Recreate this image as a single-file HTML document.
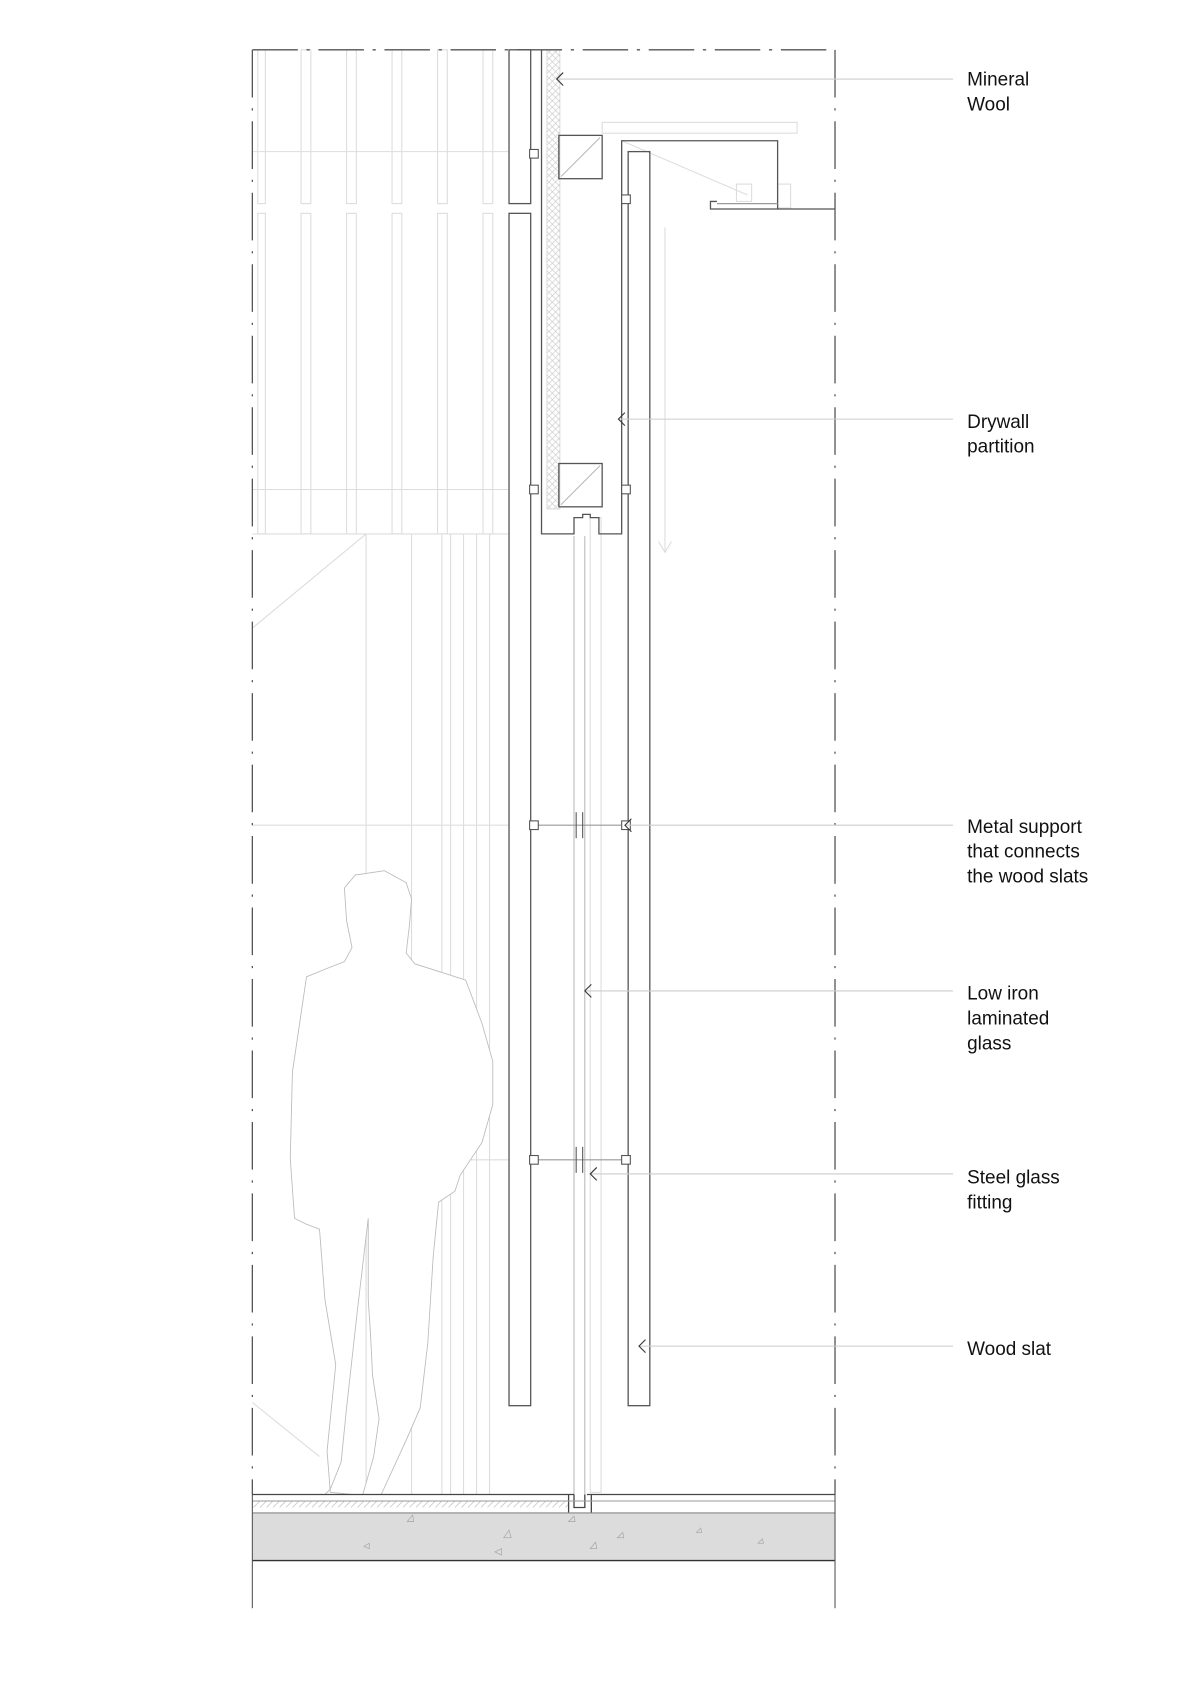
<!DOCTYPE html>
<html><head><meta charset="utf-8"><style>
html,body{margin:0;padding:0;background:#fff;}
svg{display:block;}
text{font-family:"Liberation Sans",Arial,sans-serif;font-size:17.5px;fill:#111;}
</style></head><body>
<svg width="1200" height="1697" viewBox="0 0 1108 1567" preserveAspectRatio="none" xmlns="http://www.w3.org/2000/svg">
<defs>
<pattern id="wool" width="6" height="6" patternUnits="userSpaceOnUse"><path d="M0 3 L3 0 L6 3 L3 6 Z" fill="none" stroke="#ccc" stroke-width="0.6"/></pattern>
<pattern id="hatch" width="6" height="6" patternUnits="userSpaceOnUse"><path d="M0 6 L6 0" stroke="#bbb" stroke-width="0.6"/></pattern>
</defs>
<g fill="none" stroke="#ddd" stroke-width="1">
<rect x="238" y="46" width="7" height="142"/><rect x="238" y="197" width="7" height="296"/>
<rect x="278" y="46" width="9" height="142"/><rect x="278" y="197" width="9" height="296"/>
<rect x="320" y="46" width="9" height="142"/><rect x="320" y="197" width="9" height="296"/>
<rect x="362" y="46" width="9" height="142"/><rect x="362" y="197" width="9" height="296"/>
<rect x="404" y="46" width="9" height="142"/><rect x="404" y="197" width="9" height="296"/>
<rect x="446" y="46" width="9" height="142"/><rect x="446" y="197" width="9" height="296"/>
<line x1="233" y1="493" x2="470" y2="493"/>
<line x1="233" y1="140" x2="470" y2="140"/><line x1="233" y1="452" x2="470" y2="452"/>
<line x1="380" y1="493" x2="380" y2="1380"/><line x1="408" y1="493" x2="408" y2="1380"/>
<line x1="416" y1="493" x2="416" y2="1380"/><line x1="428" y1="493" x2="428" y2="1380"/>
<line x1="440" y1="493" x2="440" y2="1380"/><line x1="452" y1="493" x2="452" y2="1380"/>
<line x1="338" y1="493" x2="338" y2="1380"/>
<line x1="233" y1="580" x2="338" y2="493"/><line x1="233" y1="1295" x2="295" y2="1345"/>
<line x1="233" y1="762" x2="470" y2="762"/><line x1="380" y1="1071" x2="470" y2="1071"/>
<line x1="614" y1="210" x2="614" y2="510"/><path d="M608 500 L614 510 L620 500"/>
<line x1="574" y1="130" x2="690" y2="180"/>
<rect x="556" y="113" width="180" height="10"/><rect x="718" y="170" width="12" height="22"/>
<rect x="680" y="170" width="14" height="16"/>
<rect x="545" y="478" width="10" height="900"/>
</g>
<rect x="505" y="46" width="12" height="424" fill="url(#wool)" stroke="#ccc" stroke-width="0.6"/>
<path d="M355 804 L375 815 L380 830 L378 855 L375 880 L383 890 L405 897 L430 905 L445 945 L455 980 L455 1020 L445 1055 L425 1085 L420 1100 L405 1110 L400 1160 L395 1240 L388 1300 L375 1330 L352 1380 L335 1380 L345 1345 L350 1310 L344 1270 L342 1230 L340 1200 L340 1125 L330 1210 L320 1300 L315 1350 L305 1375 L300 1380 L325 1380 L305 1378 L302 1340 L310 1260 L300 1200 L295 1135 L282 1130 L272 1125 L268 1070 L270 990 L283 902 L300 895 L318 888 L325 875 L320 850 L318 820 L328 808 Z" fill="#fff" stroke="#bbb" stroke-width="0.8"/>
<g fill="none" stroke="#555" stroke-width="1.2">
<line x1="233" y1="46" x2="771" y2="46" stroke-dasharray="42,8,3,8"/>
<line x1="233" y1="46" x2="233" y2="1380" stroke-dasharray="44,10,2,10"/>
<line x1="771" y1="46" x2="771" y2="1380" stroke-dasharray="44,10,2,10"/>
<rect x="470" y="46" width="20" height="142"/>
<rect x="470" y="197" width="20" height="1101"/>
<rect x="580" y="140" width="20" height="1158"/>
<path d="M500 46 L500 493 L530 493 L530 478 L538 478 L538 475 L545 475 L545 478 L553 478 L553 493 L574 493 L574 130 L718 130 L718 193 L656 193 L656 186 L662 186"/>
<line x1="718" y1="193" x2="771" y2="193"/>
<line x1="662" y1="188" x2="718" y2="188" stroke="#999"/>
<rect x="516" y="125" width="40" height="40"/><rect x="516" y="428" width="40" height="40"/>
</g>
<g stroke="#aaa" stroke-width="0.8" fill="none">
<line x1="518" y1="163" x2="554" y2="127"/><line x1="518" y1="466" x2="554" y2="430"/>
<line x1="530" y1="495" x2="530" y2="1390"/><line x1="540" y1="495" x2="540" y2="1390"/>
</g>
<g stroke="#555" stroke-width="1" fill="#fff">
<rect x="489" y="138" width="8" height="8"/><rect x="489" y="448" width="8" height="8"/>
<rect x="574" y="180" width="8" height="8"/><rect x="574" y="448" width="8" height="8"/>
<line x1="493" y1="762" x2="578" y2="762" stroke="#999"/><line x1="493" y1="1071" x2="578" y2="1071" stroke="#999"/>
<rect x="489" y="758" width="8" height="8"/><rect x="574" y="758" width="8" height="8"/>
<rect x="489" y="1067" width="8" height="8"/><rect x="574" y="1067" width="8" height="8"/>
<line x1="532" y1="750" x2="532" y2="774"/><line x1="538" y1="750" x2="538" y2="774"/>
<line x1="532" y1="1059" x2="532" y2="1083"/><line x1="538" y1="1059" x2="538" y2="1083"/>
</g>
<rect x="233" y="1386" width="292" height="6" fill="url(#hatch)"/>
<g stroke="#444" stroke-width="1.2" fill="none">
<line x1="233" y1="1380" x2="530" y2="1380"/><line x1="542" y1="1380" x2="771" y2="1380"/>
<path d="M525 1380 L525 1397 M546 1380 L546 1397 M530 1380 L530 1392 L540 1392 L540 1380"/>
</g>
<line x1="233" y1="1386" x2="771" y2="1386" stroke="#999"/>
<rect x="233" y="1397" width="538" height="44" fill="#dcdcdc"/>
<line x1="233" y1="1397" x2="771" y2="1397" stroke="#888"/>
<line x1="233" y1="1441" x2="771" y2="1441" stroke="#333" stroke-width="1.3"/>
<line x1="233" y1="1380" x2="233" y2="1485" stroke="#555"/><line x1="771" y1="1380" x2="771" y2="1485" stroke="#555"/>
<g fill="none" stroke="#aaa" stroke-width="0.7">
<path d="M376 1405 l5 -6 l1 6z M465 1420 l5 -7 l2 7z M463 1430 l-6 3 l6 3z M525 1405 l5 -5 l1 5z M545 1430 l5 -6 l1 6z M643 1415 l4 -4 l1 4z M700 1425 l4 -4 l1 4z M341 1425 l-5 3 l5 2z M570 1420 l5 -5 l1 5z"/>
</g>
<g stroke="#ccc" stroke-width="1" fill="none">
<line x1="514" y1="73" x2="880" y2="73"/><line x1="572" y1="387" x2="880" y2="387"/>
<line x1="578" y1="762" x2="880" y2="762"/><line x1="540" y1="915" x2="880" y2="915"/>
<line x1="545" y1="1084" x2="880" y2="1084"/><line x1="590" y1="1243" x2="880" y2="1243"/>
</g>
<g stroke="#333" stroke-width="1" fill="none">
<path d="M520 67 L514 73 L520 79"/><path d="M577 381 L571 387 L577 393"/>
<path d="M583 756 L577 762 L583 768"/><path d="M546 909 L540 915 L546 921"/>
<path d="M551 1078 L545 1084 L551 1090"/><path d="M596 1237 L590 1243 L596 1249"/>
</g>
<text x="893" y="79">Mineral</text><text x="893" y="102">Wool</text>
<text x="893" y="395">Drywall</text><text x="893" y="418">partition</text>
<text x="893" y="769">Metal support</text><text x="893" y="792">that connects</text><text x="893" y="815">the wood slats</text>
<text x="893" y="923">Low iron</text><text x="893" y="946">laminated</text><text x="893" y="969">glass</text>
<text x="893" y="1093">Steel glass</text><text x="893" y="1116">fitting</text>
<text x="893" y="1251">Wood slat</text>
</svg>
</body></html>
